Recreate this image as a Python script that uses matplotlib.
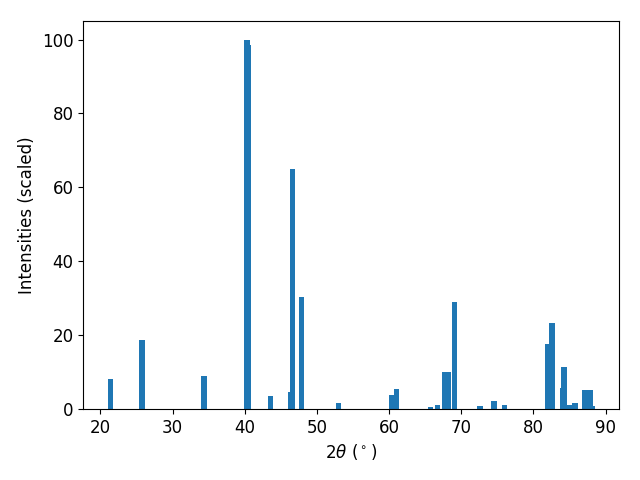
import matplotlib.pyplot as plt
import numpy as np

# peak positions (2theta, degrees) and scaled intensities
two_theta = [21.39, 25.80, 34.40, 40.35, 40.52, 43.57, 46.34, 46.60, 47.86, 52.99,
             60.34, 61.03, 65.74, 66.71, 67.69, 68.24, 69.07, 72.60, 74.48, 76.00,
             81.96, 82.52, 84.04, 84.18, 84.90, 85.77, 87.09, 87.79, 88.06]
intensity = [8.1, 18.7, 8.9, 100.0, 98.6, 3.5, 4.6, 65.0, 30.3, 1.6,
             3.8, 5.4, 0.5, 1.1, 10.0, 10.0, 29.0, 0.8, 2.1, 1.1,
             17.6, 23.3, 5.7, 11.4, 1.2, 1.7, 5.1, 5.1, 0.8]

plt.figure(figsize=(6.4, 4.8))
plt.bar(two_theta, intensity)

plt.xlabel(r"$2\theta$ ($^\circ$)", fontsize=12)
plt.ylabel("Intensities (scaled)", fontsize=12)
plt.xticks(fontsize=12)
plt.yticks(fontsize=12)
plt.subplots_adjust(left=0.13, right=0.967, bottom=0.148, top=0.956)
plt.savefig("out.png", dpi=100)
